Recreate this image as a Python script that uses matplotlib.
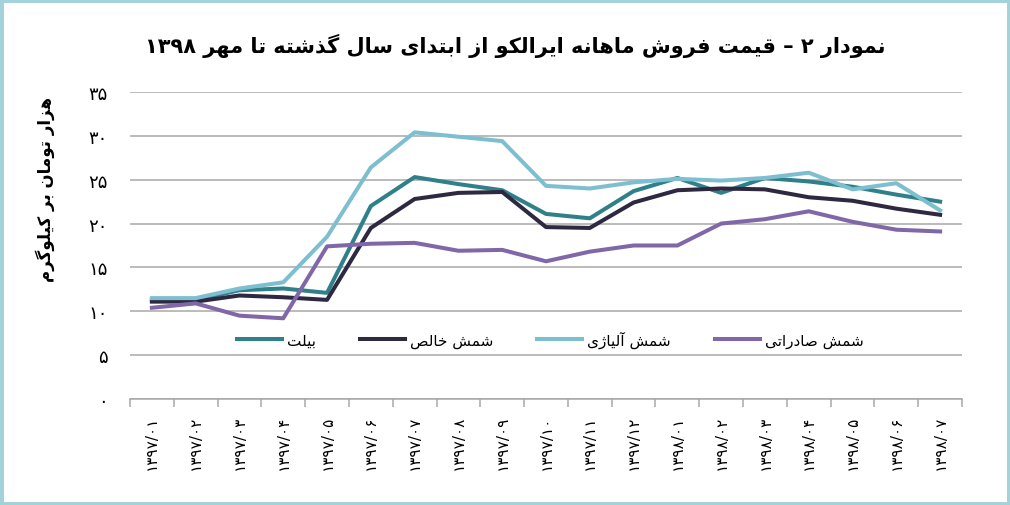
import re
import numpy as np
import matplotlib
matplotlib.use('Agg')
import matplotlib.pyplot as plt
from matplotlib.patches import Rectangle

plt.rcParams['font.family'] = ['DejaVu Sans']

# ---- data (thousand toman per kg) ----
months = ['۱۳۹۷/۰۱', '۱۳۹۷/۰۲', '۱۳۹۷/۰۳', '۱۳۹۷/۰۴', '۱۳۹۷/۰۵', '۱۳۹۷/۰۶',
          '۱۳۹۷/۰۷', '۱۳۹۷/۰۸', '۱۳۹۷/۰۹', '۱۳۹۷/۱۰', '۱۳۹۷/۱۱', '۱۳۹۷/۱۲',
          '۱۳۹۸/۰۱', '۱۳۹۸/۰۲', '۱۳۹۸/۰۳', '۱۳۹۸/۰۴', '۱۳۹۸/۰۵', '۱۳۹۸/۰۶',
          '۱۳۹۸/۰۷']
billet = [11.3, 11.3, 12.4, 12.6, 12.1, 22.0, 25.3, 24.5, 23.8, 21.1,
          20.6, 23.7, 25.2, 23.5, 25.2, 24.8, 24.2, 23.3, 22.5]
pure = [11.1, 11.1, 11.8, 11.6, 11.3, 19.5, 22.8, 23.5, 23.6, 19.6,
        19.5, 22.4, 23.8, 24.0, 23.9, 23.0, 22.6, 21.7, 21.0]
alloy = [11.5, 11.5, 12.6, 13.3, 18.5, 26.4, 30.4, 29.9, 29.4, 24.3,
         24.0, 24.7, 25.1, 24.9, 25.2, 25.8, 23.9, 24.6, 21.5]
export = [10.4, 10.9, 9.5, 9.2, 17.4, 17.7, 17.8, 16.9, 17.0, 15.7,
          16.8, 17.5, 17.5, 20.0, 20.5, 21.4, 20.2, 19.3, 19.1]
series_names = ['بیلت', 'شمش خالص', 'شمش آلیاژی', 'شمش صادراتی']
yticks = [0, 5, 10, 15, 20, 25, 30, 35]
ytick_labels = ['۰', '۵', '۱۰', '۱۵', '۲۰', '۲۵', '۳۰', '۳۵']
title = 'نمودار ۲ – قیمت فروش ماهانه ایرالکو از ابتدای سال گذشته تا مهر ۱۳۹۸'
ylabel = 'هزار تومان بر کیلوگرم'

# ---- tiny persian shaper (matplotlib has no arabic shaping / bidi) ----
FORMS = {
    'ا': '\uFE8D\uFE8E', 'آ': '\uFE81\uFE82', 'د': '\uFEA9\uFEAA',
    'ذ': '\uFEAB\uFEAC', 'ر': '\uFEAD\uFEAE', 'ز': '\uFEAF\uFEB0',
    'ژ': '\uFB8A\uFB8B', 'و': '\uFEED\uFEEE',
    'ب': '\uFE8F\uFE90\uFE91\uFE92', 'ت': '\uFE95\uFE96\uFE97\uFE98',
    'خ': '\uFEA5\uFEA6\uFEA7\uFEA8', 'س': '\uFEB1\uFEB2\uFEB3\uFEB4',
    'ش': '\uFEB5\uFEB6\uFEB7\uFEB8', 'ص': '\uFEB9\uFEBA\uFEBB\uFEBC',
    'ف': '\uFED1\uFED2\uFED3\uFED4', 'ق': '\uFED5\uFED6\uFED7\uFED8',
    'ک': '\uFB8E\uFB8F\uFB90\uFB91', 'گ': '\uFB92\uFB93\uFB94\uFB95',
    'ل': '\uFEDD\uFEDE\uFEDF\uFEE0', 'م': '\uFEE1\uFEE2\uFEE3\uFEE4',
    'ن': '\uFEE5\uFEE6\uFEE7\uFEE8', 'ه': '\uFEE9\uFEEA\uFEEB\uFEEC',
    'ی': '\uFBFC\uFBFD\uFBFE\uFBFF',
}
LAMALEF = {'ا': '\uFEFB\uFEFC', 'آ': '\uFEF5\uFEF6'}


def fa(text):
    dual = lambda c: c in FORMS and len(FORMS[c]) == 4
    res = []
    i = 0
    n = len(text)
    while i < n:
        c = text[i]
        prev = i > 0 and dual(text[i - 1])
        if c == 'ل' and i + 1 < n and text[i + 1] in LAMALEF:
            res.append(LAMALEF[text[i + 1]][1 if prev else 0])
            i += 2
            continue
        if c in FORMS:
            f = FORMS[c]
            nxt = len(f) == 4 and i + 1 < n and text[i + 1] in FORMS
            if prev and nxt:
                res.append(f[3])
            elif prev:
                res.append(f[1])
            elif nxt:
                res.append(f[2])
            else:
                res.append(f[0])
        else:
            res.append(c)
        i += 1
    s = ''.join(res)[::-1]
    return re.sub('[0-9\u06F0-\u06F9/]+', lambda m: m.group(0)[::-1], s)


colors = ['#2F8089', '#2E2841', '#7DBFD0', '#8068A8']

fig = plt.figure(figsize=(10.1, 5.06), dpi=100)
ax = fig.add_axes([0.1287, 0.2095, 0.8238, 0.6067])

x = np.arange(len(months))
for vals, name, col in zip([billet, pure, alloy, export], series_names, colors):
    ax.plot(x, vals, color=col, lw=2.9, label=fa(name))

ax.set_xlim(-0.5, len(months) - 0.5)
ax.set_ylim(0, 35)
ax.set_yticks(yticks)
ax.set_yticklabels(ytick_labels, fontsize=13)
ax.yaxis.grid(True, color='#A8A8A8', lw=1.1)
ax.set_axisbelow(True)
ax.tick_params(axis='y', length=0, pad=16)

ax.set_xticks(x)
ax.set_xticklabels(months, rotation=90, fontsize=11, va='top')
ax.set_xticks(np.arange(-0.5, len(months)), minor=True)
ax.tick_params(axis='x', which='major', length=0, pad=11)
ax.tick_params(axis='x', which='minor', length=6, color='#A8A8A8', width=1.1)

for s in ['top', 'right', 'left']:
    ax.spines[s].set_visible(False)
ax.spines['bottom'].set_color('#A8A8A8')
ax.spines['bottom'].set_linewidth(1.1)

ax.legend(loc='center', bbox_to_anchor=(0.505, 0.195), ncol=4, frameon=False,
          fontsize=11, handlelength=2.95, handletextpad=0.3, columnspacing=2.9)

fig.text(0.510, 0.91, fa(title), ha='center', va='center', fontsize=15,
         fontweight='bold')
fig.text(0.045, 0.625, fa(ylabel), ha='center', va='center', rotation=90,
         fontsize=12, fontweight='bold')

fig.patches.append(Rectangle((0, 0), 1, 1, transform=fig.transFigure,
                             fill=False, edgecolor='#A3D2DB', lw=5))

fig.savefig('out.png', dpi=100)
